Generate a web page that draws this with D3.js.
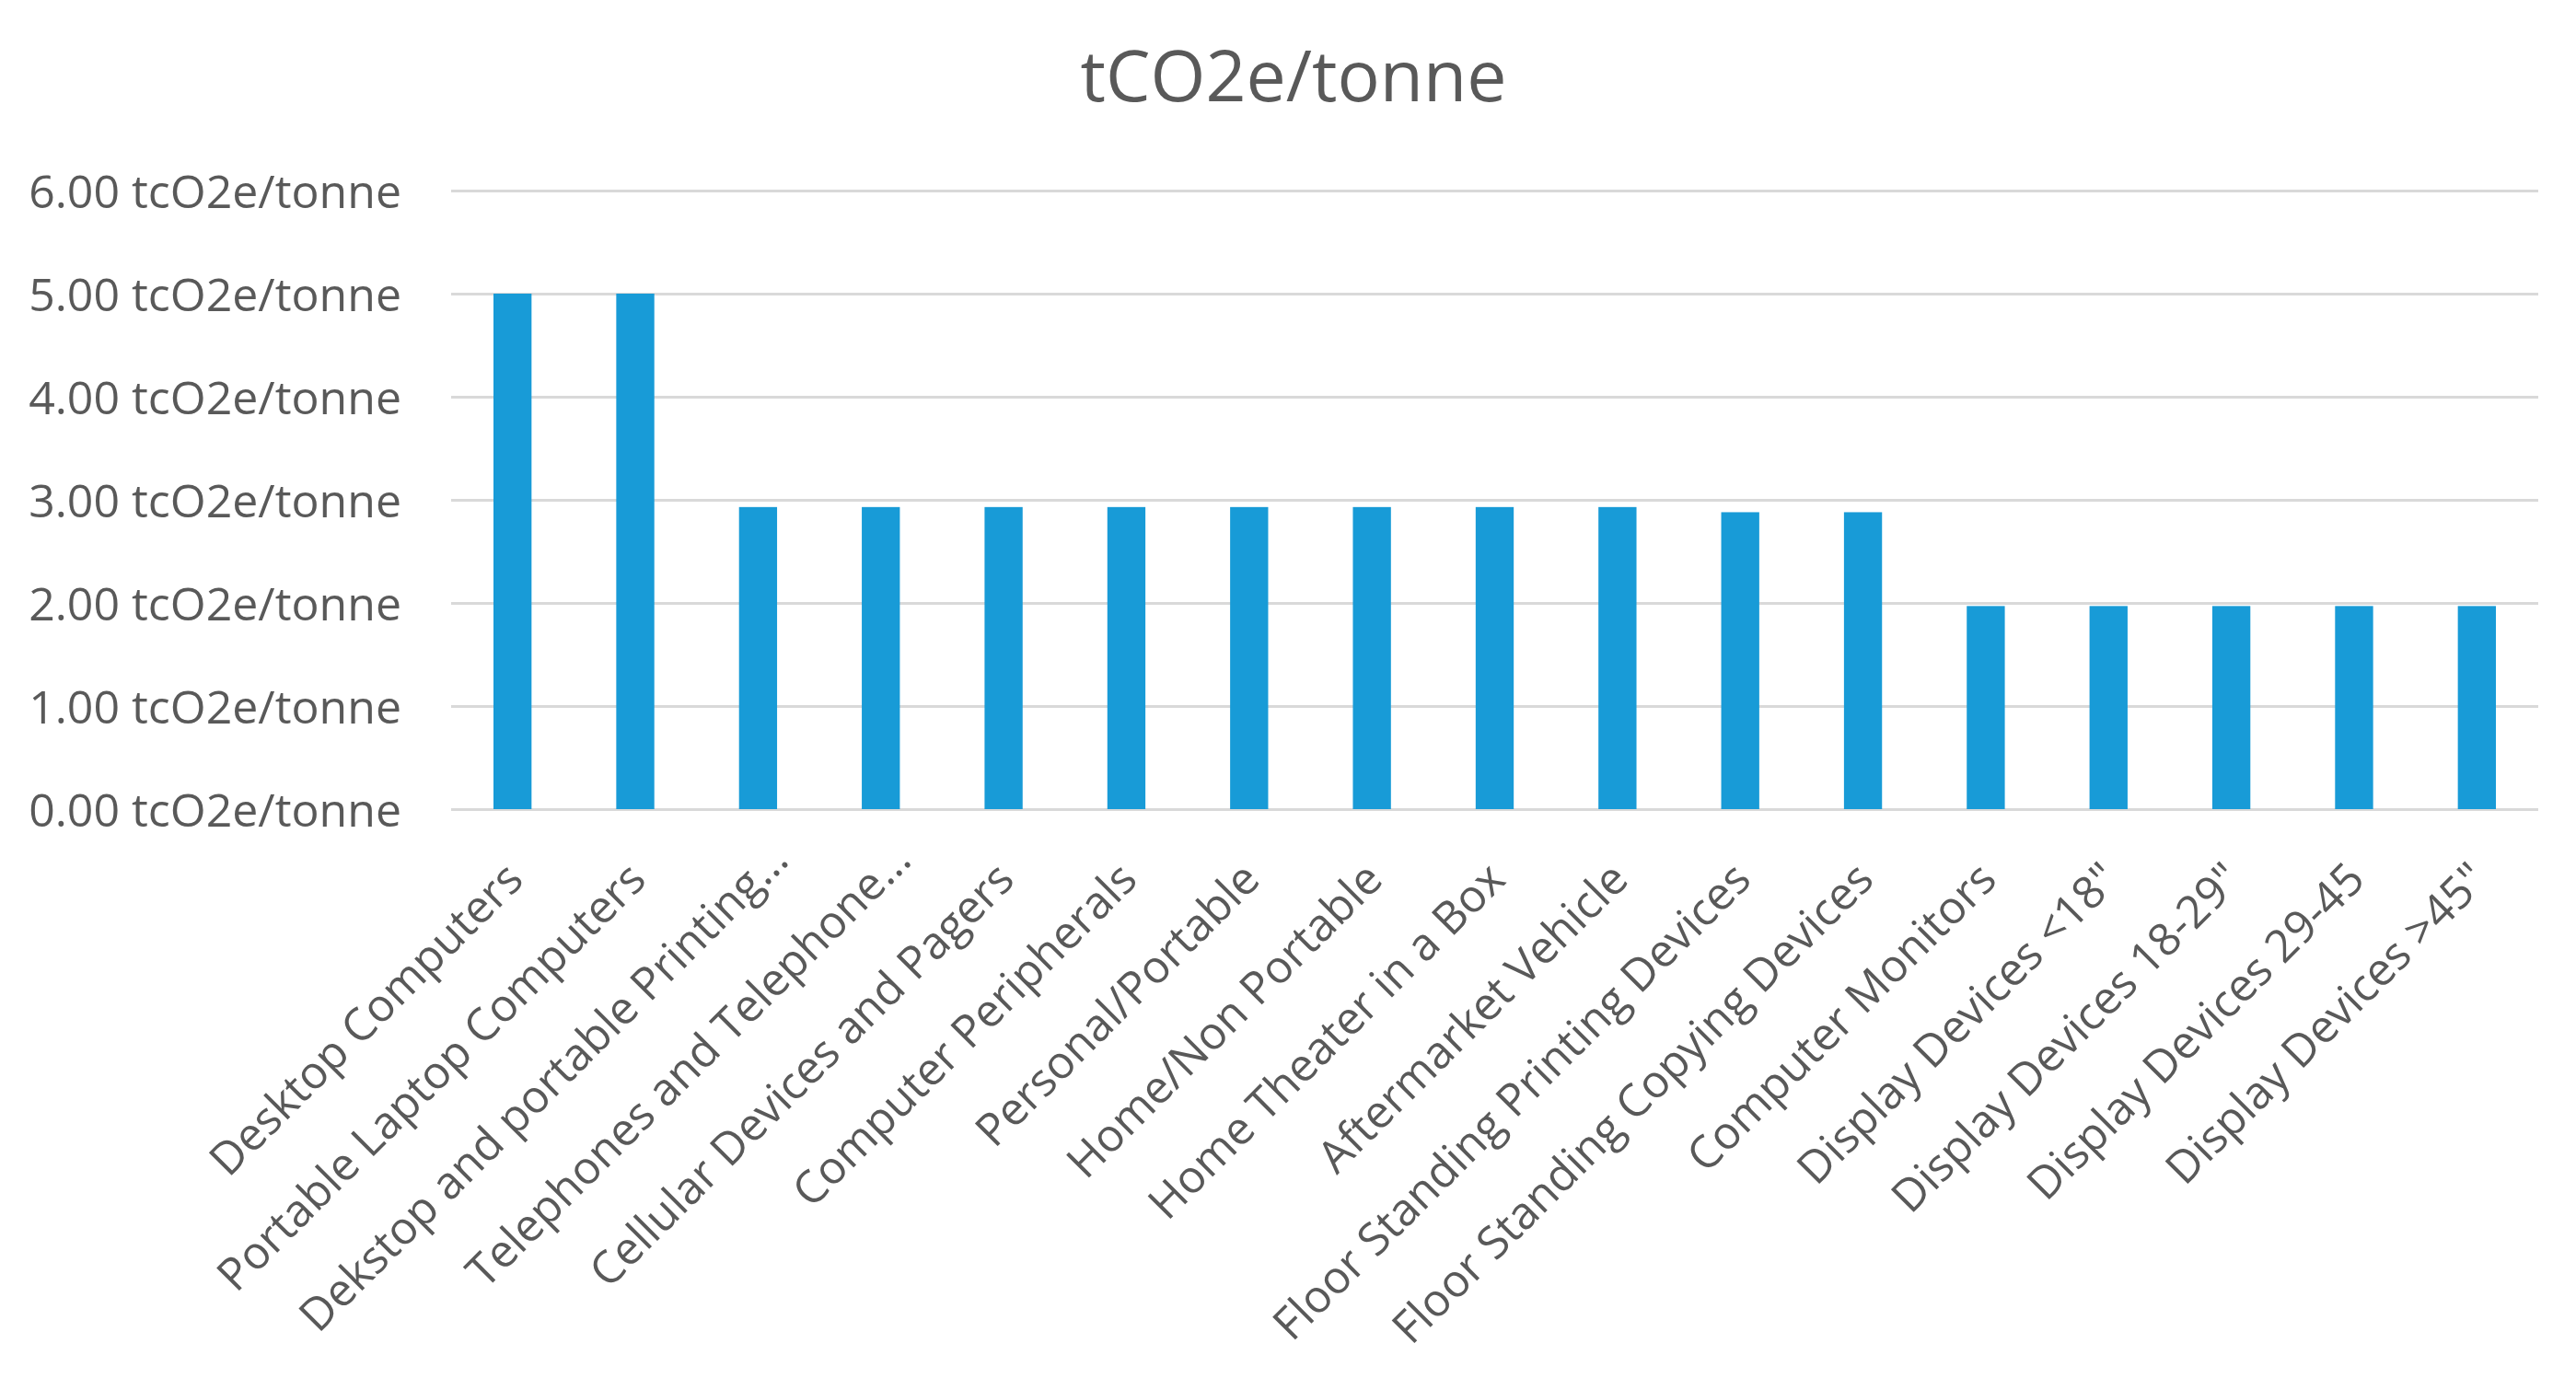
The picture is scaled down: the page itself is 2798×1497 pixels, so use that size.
<!DOCTYPE html>
<html>
<head>
<meta charset="utf-8">
<script src="https://cdn.jsdelivr.net/npm/d3@7"></script>
<style>
  html, body { margin: 0; padding: 0; background: #ffffff; }
  svg { display: block; }
</style>
</head>
<body>
<svg id="chart" width="2798" height="1497"></svg>
<script>
const title = "tCO2e/tonne";
const unit = " tcO2e/tonne";
const categories = [
  "Desktop Computers",
  "Portable Laptop Computers",
  "Dekstop and portable Printing…",
  "Telephones and Telephone…",
  "Cellular Devices and Pagers",
  "Computer Peripherals",
  "Personal/Portable",
  "Home/Non Portable",
  "Home Theater in a Box",
  "Aftermarket Vehicle",
  "Floor Standing Printing Devices",
  "Floor Standing Copying Devices",
  "Computer Monitors",
  "Display Devices <18\"",
  "Display Devices 18-29\"",
  "Display Devices 29-45",
  "Display Devices >45\""
];
const values = [5.00, 5.00, 2.93, 2.93, 2.93, 2.93, 2.93, 2.93, 2.93, 2.93, 2.88, 2.88, 1.97, 1.97, 1.97, 1.97, 1.97];
const yTicks = [0, 1, 2, 3, 4, 5, 6];

const W = 2798, H = 1497;
const plot = { left: 490, right: 2757, top: 207, bottom: 879 };
const textColor = "#595959";
const font = "'Open Sans', 'Noto Sans', sans-serif";

const svg = d3.select("#chart");
svg.append("rect").attr("width", W).attr("height", H).attr("fill", "#ffffff");

const x = d3.scaleBand()
  .domain(categories)
  .range([plot.left, plot.right])
  .paddingInner(0.69)
  .paddingOuter(0.345);

const y = d3.scaleLinear()
  .domain([0, 6])
  .range([plot.bottom, plot.top]);

// Title
svg.append("text")
  .attr("x", 1405)
  .attr("y", 110)
  .attr("text-anchor", "middle")
  .attr("font-family", font)
  .attr("font-size", 77)
  .attr("fill", textColor)
  .text(title);

// Y axis with gridlines
const yAxis = d3.axisLeft(y)
  .tickValues(yTicks)
  .tickSize(-(plot.right - plot.left))
  .tickPadding(54)
  .tickFormat(d => d.toFixed(2) + unit);

const gy = svg.append("g")
  .attr("transform", `translate(${plot.left},0)`)
  .call(yAxis);
gy.select(".domain").remove();
gy.selectAll(".tick line")
  .attr("stroke", "#d9d9d9")
  .attr("stroke-width", 3);
gy.selectAll(".tick text")
  .attr("font-family", font)
  .attr("font-size", 50)
  .attr("fill", textColor)
  .attr("dy", "0.37em");

// Bars
svg.append("g")
  .selectAll("rect")
  .data(values)
  .join("rect")
  .attr("x", (d, i) => x(categories[i]))
  .attr("width", x.bandwidth())
  .attr("y", d => y(d))
  .attr("height", d => y(0) - y(d))
  .attr("fill", "#189bd7");

// X axis labels
const xAxis = d3.axisBottom(x).tickSize(0).tickPadding(0);
const gx = svg.append("g")
  .attr("transform", `translate(0,${plot.bottom})`)
  .call(xAxis);
gx.select(".domain").remove();
gx.selectAll(".tick text")
  .attr("font-family", font)
  .attr("font-size", 49)
  .attr("fill", textColor)
  .attr("text-anchor", "end")
  .attr("x", 0)
  .attr("y", 0)
  .attr("dy", 0)
  .attr("dx", d => d.endsWith("…") ? 30 : 0)
  .attr("transform", "translate(14,79) rotate(-45)");
</script>
</body>
</html>
